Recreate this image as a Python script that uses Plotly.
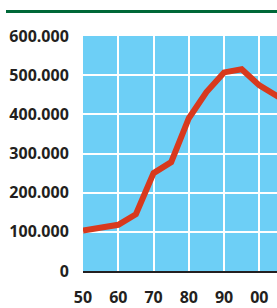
import plotly.graph_objects as go

years = [50, 55, 60, 65, 70, 75, 80, 85, 90, 95, 100, 105.5]
values = [103000, 110000, 118000, 145000, 250000, 278000, 390000, 457000, 507000, 515000, 474000, 444000]

x_tickvals = [50, 60, 70, 80, 90, 100]
x_ticktext = ["50", "60", "70", "80", "90", "00"]
y_tickvals = [0, 100000, 200000, 300000, 400000, 500000, 600000]
y_ticktext = ["0", "100.000", "200.000", "300.000", "400.000", "500.000", "600.000"]

tfont = dict(family="Open Sans", size=16, color="#231f20", weight="bold")

fig = go.Figure()
fig.add_trace(go.Scatter(
    x=years, y=values, mode="lines",
    line=dict(color="#d8391d", width=6),
    hoverinfo="skip",
))

fig.update_layout(
    width=277, height=308,
    margin=dict(l=83, r=0, t=36, b=37, autoexpand=False),
    paper_bgcolor="white",
    plot_bgcolor="#6dcff6",
    showlegend=False,
    xaxis=dict(
        range=[50, 105], tickvals=x_tickvals, ticktext=x_ticktext,
        showgrid=True, gridcolor="white", gridwidth=2,
        zeroline=False, showline=True, linecolor="#231f20", linewidth=2,
        ticks="outside", ticklen=11, tickcolor="rgba(0,0,0,0)",
        tickfont=tfont, automargin=False,
        fixedrange=True,
    ),
    yaxis=dict(
        range=[0, 600000], tickvals=y_tickvals, ticktext=y_ticktext,
        showgrid=True, gridcolor="white", gridwidth=2,
        zeroline=False, showline=False,
        ticks="outside", ticklen=10, tickcolor="rgba(0,0,0,0)",
        tickfont=tfont, automargin=False,
        fixedrange=True,
    ),
    shapes=[dict(
        type="line", xref="paper", yref="paper",
        x0=(6 - 83) / 194, x1=1.0,
        y0=1 + (36 - 11.5) / 235, y1=1 + (36 - 11.5) / 235,
        line=dict(color="#006838", width=3),
    )],
)

fig.write_html(
    "out.html",
    config={"displayModeBar": False},
    post_script="document.body.style.margin='0';document.body.style.overflow='hidden';",
)
